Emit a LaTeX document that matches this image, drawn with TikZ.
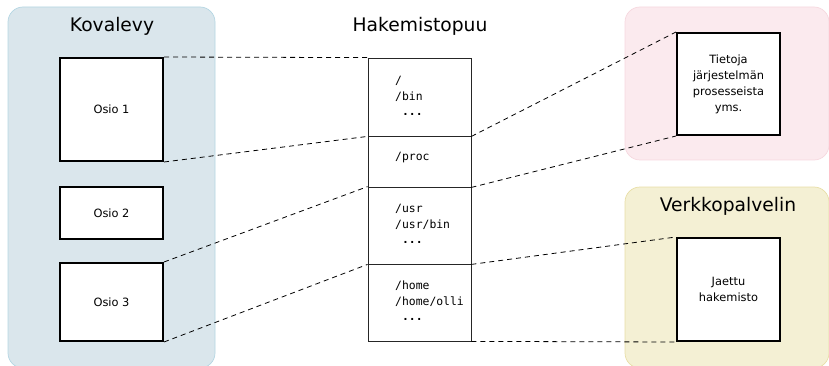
\documentclass[tikz,border=0pt]{standalone}
\usepackage{fontspec}
\setmainfont{DejaVu Sans}
\setmonofont{DejaVu Sans Mono}
\definecolor{bluefill}{HTML}{DAE6EC}
\definecolor{blueedge}{HTML}{B4D6E3}
\definecolor{pinkfill}{HTML}{FBEAEE}
\definecolor{pinkedge}{HTML}{F6D8DF}
\definecolor{yelfill}{HTML}{F4F0D4}
\definecolor{yeledge}{HTML}{E8DEA6}
\begin{document}
\begin{tikzpicture}[x=1pt,y=-1pt,
  panel/.style={rounded corners=15pt, line width=0.7pt},
  part/.style={draw=black, line width=2pt, fill=white, minimum width=103pt, inner sep=0pt,
    font=\fontsize{11.4}{16}\selectfont, align=center},
  cell/.style={draw=black!85, line width=0.8pt, fill=white, minimum width=103pt, inner sep=0pt},
  path/.style={anchor=west, align=left, inner sep=0pt, font=\ttfamily\fontsize{11.4}{15.5}\selectfont},
  title/.style={font=\fontsize{18.7}{22}\selectfont, inner sep=0pt},
  link/.style={black, line width=0.8pt, dash pattern=on 5pt off 4pt}]
\useasboundingbox (0,0) rectangle (829,366);
\clip (0,0) rectangle (829,366);
% panels
\path[panel, fill=bluefill, draw=blueedge] (8,7) rectangle (215,368);
\path[panel, fill=pinkfill, draw=pinkedge] (625,7) rectangle (829,160);
\path[panel, fill=yelfill, draw=yeledge] (625,187) rectangle (829,368);
% titles
\node[title] (tk) at (112,26) {Kovalevy};
\node[title] (th) at (420,26) {Hakemistopuu};
\node[title] (tv) at (728,206) {Verkkopalvelin};
% partitions
\node[part, minimum height=103pt] (o1) at (111.5,109.5) {Osio 1};
\node[part, minimum height=52pt] (o2) at (111.5,213) {Osio 2};
\node[part, minimum height=78pt] (o3) at (111.5,302) {Osio 3};
% tree cells
\node[cell, minimum height=78pt] (c1) at (419.5,97) {};
\node[cell, minimum height=51pt] (c2) at (419.5,161.5) {};
\node[cell, minimum height=77pt] (c3) at (419.5,225.5) {};
\node[cell, minimum height=77pt] (c4) at (419.5,302.5) {};
\node[path] (p1) at (395,96) {/\\/bin\\\ \textbf{...}};
\node[path] (p2) at (395,158) {/proc};
\node[path] (p3) at (395,224) {/usr\\/usr/bin\\\ \textbf{...}};
\node[path] (p4) at (395,301) {/home\\/home/olli\\\ \textbf{...}};
% right boxes
\node[part, minimum height=102pt] (pr) at (728.5,84) {Tietoja\\järjestelmän\\prosesseista\\yms.};
\node[part, minimum height=103pt] (jh) at (728.5,289.5) {Jaettu\\hakemisto};
% links
\draw[link] (o1.north east) -- (c1.north west);
\draw[link] (o1.south east) -- (c1.south west);
\draw[link] (o3.north east) -- (c3.north west);
\draw[link] (o3.south east) -- (c3.south west);
\draw[link] (c1.south east) -- (pr.north west);
\draw[link] (c2.south east) -- (pr.south west);
\draw[link] (c3.south east) -- (jh.north west);
\draw[link] (c4.south east) -- (jh.south west);
\end{tikzpicture}
\end{document}
